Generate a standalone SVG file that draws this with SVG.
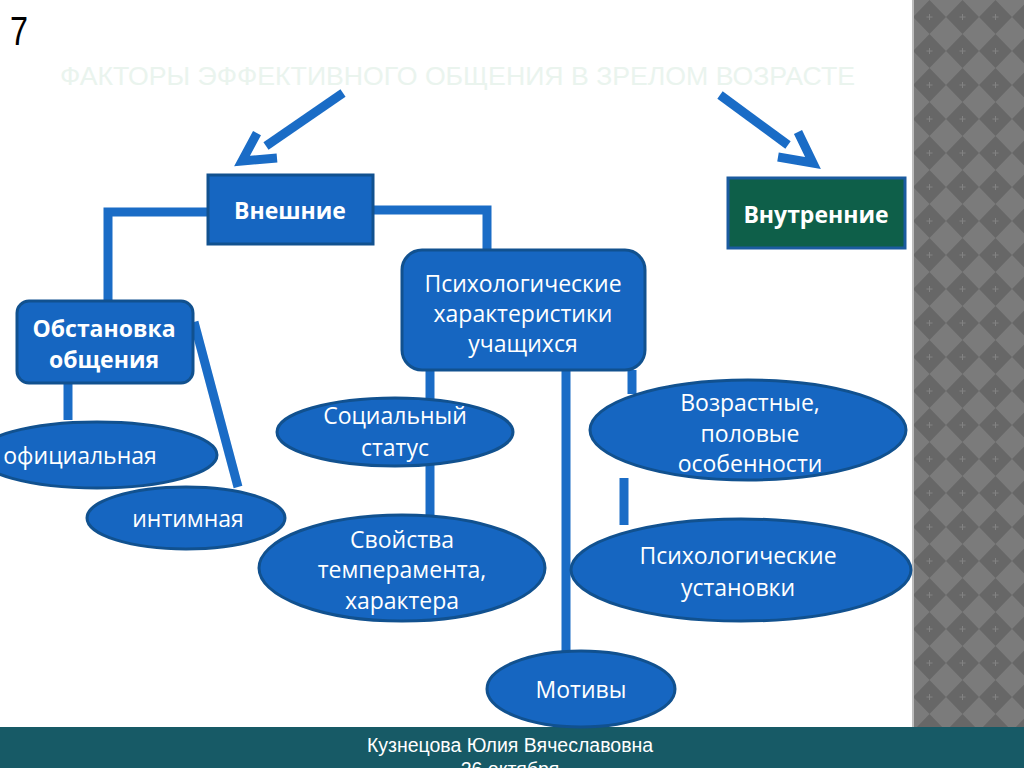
<svg xmlns="http://www.w3.org/2000/svg" width="1024" height="768" viewBox="0 0 1024 768">
<defs>
<pattern id="diam" patternUnits="userSpaceOnUse" x="913" y="0" width="33" height="34">
<rect width="33" height="34" fill="#7b7b7b"/>
<polygon points="16.5,0 33,17 16.5,34 0,17" fill="#676767"/>
<path d="M16.5,14 V20 M13.5,17 H19.5" stroke="#828282" stroke-width="1"/>
</pattern>
<style>
.node{fill:#1666c1;stroke:#11518f;stroke-width:3}
.t{fill:#ffffff;font-family:"Open Sans","Noto Sans","DejaVu Sans",sans-serif;font-size:23px;text-anchor:middle}
.b{font-weight:bold}
.conn{stroke:#1a6cc6;stroke-width:9;fill:none}
.arr{stroke:#1a6cc6;stroke-width:9;fill:none;stroke-linejoin:miter}
</style>
</defs>
<rect width="1024" height="768" fill="#ffffff"/>
<rect x="913" y="0" width="111" height="727" fill="url(#diam)"/>
<rect x="912" y="0" width="2" height="727" fill="#bdbdbd"/>
<rect x="0" y="727" width="1024" height="41" fill="#175a66"/>
<text x="510" y="752" fill="#ffffff" font-family="Liberation Sans, Arial, sans-serif" font-size="19.5" text-anchor="middle">Кузнецова Юлия Вячеславовна</text>
<text x="510" y="776" fill="#ffffff" font-family="Liberation Sans, Arial, sans-serif" font-size="19.5" text-anchor="middle">26 октября</text>
<text x="10" y="45" fill="#000000" font-family="Liberation Sans, Arial, sans-serif" font-size="40" textLength="18" lengthAdjust="spacingAndGlyphs">7</text>
<text x="60" y="85" fill="#eaf4ee" font-family="Liberation Sans, Arial, sans-serif" font-size="25" textLength="795" lengthAdjust="spacingAndGlyphs">ФАКТОРЫ ЭФФЕКТИВНОГО ОБЩЕНИЯ В ЗРЕЛОМ ВОЗРАСТЕ</text>

<g id="arrows">
<path class="arr" d="M343,93 L266,146"/>
<path class="arr" d="M257,133 L242,161 L277,158"/>
<path class="arr" d="M720,95 L788,145"/>
<path class="arr" d="M798,132 L813,163 L778,157"/>
</g>

<g id="connectors">
<path class="conn" d="M208,212 H108 V301"/>
<path class="conn" d="M373,210 H487 V250"/>
<path class="conn" d="M68,383 V420"/>
<path class="conn" d="M194,322 L238,487"/>
<path class="conn" d="M430,370 V400"/>
<path class="conn" d="M430,465 V518"/>
<path class="conn" d="M566,370 V652"/>
<path class="conn" d="M632,370 V394"/>
<path class="conn" d="M624,478 V525"/>
</g>

<g id="vneshnie">
<rect class="node" x="208" y="175" width="165" height="69"/>
<text class="t b" x="290" y="219" font-size="22">Внешние</text>
</g>
<g id="vnutrennie">
<rect x="728" y="178" width="177" height="70" fill="#0e5f49" stroke="#1a5b9f" stroke-width="3"/>
<text class="t b" x="816" y="223" font-size="21">Внутренние</text>
</g>
<g id="psych-char">
<rect class="node" x="402" y="250" width="243" height="120" rx="20"/>
<text class="t" x="523" y="292">Психологические</text>
<text class="t" x="523" y="322">характеристики</text>
<text class="t" x="523" y="352">учащихся</text>
</g>
<g id="obstanovka">
<rect class="node" x="17" y="301" width="176" height="82" rx="12"/>
<text class="t b" x="104" y="337">Обстановка</text>
<text class="t b" x="104" y="368">общения</text>
</g>
<g id="oficialnaya">
<ellipse class="node" cx="97" cy="455" rx="120" ry="33"/>
<text class="t" x="80" y="464">официальная</text>
</g>
<g id="intimnaya">
<ellipse class="node" cx="186" cy="518" rx="99" ry="31"/>
<text class="t" x="188" y="527">интимная</text>
</g>
<g id="socialny">
<ellipse class="node" cx="395" cy="432" rx="118" ry="34"/>
<text class="t" x="395" y="424">Социальный</text>
<text class="t" x="395" y="456">статус</text>
</g>
<g id="svoistva">
<ellipse class="node" cx="402" cy="568" rx="143" ry="53"/>
<text class="t" x="402" y="548">Свойства</text>
<text class="t" x="402" y="578">темперамента,</text>
<text class="t" x="402" y="609">характера</text>
</g>
<g id="vozrastnye">
<ellipse class="node" cx="748" cy="430" rx="158" ry="50"/>
<text class="t" x="750" y="411">Возрастные,</text>
<text class="t" x="750" y="442">половые</text>
<text class="t" x="750" y="472">особенности</text>
</g>
<g id="ustanovki">
<ellipse class="node" cx="741" cy="570" rx="170" ry="51"/>
<text class="t" x="738" y="564">Психологические</text>
<text class="t" x="738" y="596">установки</text>
</g>
<g id="motivy">
<ellipse class="node" cx="581" cy="689" rx="94" ry="38"/>
<text class="t" x="581" y="698">Мотивы</text>
</g>
</svg>
